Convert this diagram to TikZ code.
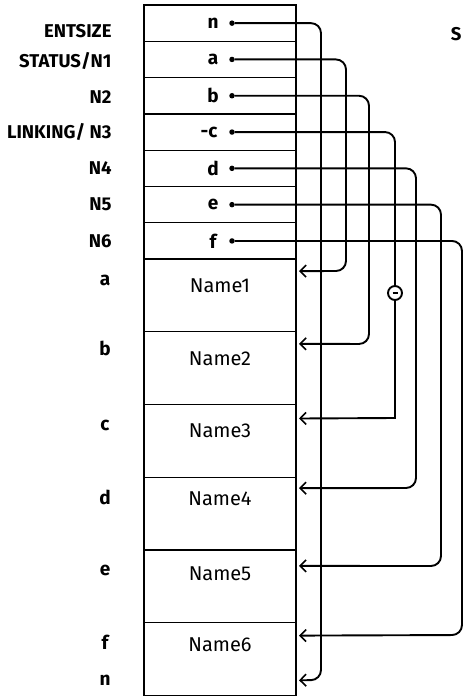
\documentclass[tikz,border=0pt]{standalone}
\usepackage{fontspec}
\setmainfont{Fira Sans}
\usetikzlibrary{arrows.meta,positioning}

\begin{document}
\begin{tikzpicture}[x=1pt,y=-1pt,node distance=0pt,
  fld/.style={draw,line width=1.3pt,minimum width=152pt,minimum height=36.3pt,inner sep=0pt,outer sep=0pt},
  nbox/.style={draw,line width=1.3pt,minimum width=152pt,minimum height=72.7pt,inner sep=0pt,outer sep=0pt},
  lbl/.style={font=\fontsize{18.5}{21}\selectfont\bfseries,anchor=east},
  sml/.style={font=\fontsize{19}{21}\selectfont\bfseries},
  nm/.style={font=\fontsize{20}{22}\selectfont},
  dot/.style={circle,fill,inner sep=0pt,minimum size=5.5pt},
  ln/.style={line width=1.9pt,rounded corners=10pt,-{Straight Barb[length=6pt,width=12pt,line width=1.6pt]}}]
\useasboundingbox (0,0) rectangle (465,698);

% header fields
\node[fld,anchor=north west] (rn) at (144,5) {};
\node[fld,below=of rn] (ra) {};
\node[fld,below=of ra] (rb) {};
\node[fld,below=of rb] (rc) {};
\node[fld,below=of rc] (rd) {};
\node[fld,below=of rd] (re) {};
\node[fld,below=of re] (rf) {};

% name area
\node[nbox,below=of rf] (b1) {};
\node[nbox,below=of b1] (b2) {};
\node[nbox,below=of b2] (b3) {};
\node[nbox,below=of b3] (b4) {};
\node[nbox,below=of b4] (b5) {};
\node[nbox,below=of b5] (b6) {};

% field contents
\node[sml] (vn) at ([xshift=-7pt]rn.center) {n};
\node[sml] (va) at ([xshift=-7pt]ra.center) {a};
\node[sml] (vb) at ([xshift=-7pt]rb.center) {b};
\node[sml] (vc) at ([xshift=-11pt]rc.center) {-c};
\node[sml] (vd) at ([xshift=-7pt]rd.center) {d};
\node[sml] (ve) at ([xshift=-7pt]re.center) {e};
\node[sml] (vf) at ([xshift=-7pt]rf.center) {f};

\node[dot] (pn) at ([xshift=12pt]rn.center) {};
\node[dot] (pa) at ([xshift=12pt]ra.center) {};
\node[dot] (pb) at ([xshift=12pt]rb.center) {};
\node[dot] (pc) at ([xshift=12pt]rc.center) {};
\node[dot] (pd) at ([xshift=12pt]rd.center) {};
\node[dot] (pe) at ([xshift=12pt]re.center) {};
\node[dot] (pf) at ([xshift=12pt]rf.center) {};

\node[nm] (t1) at ([yshift=-27pt]b1.north) {Name1};
\node[nm] (t2) at ([yshift=-27pt]b2.north) {Name2};
\node[nm] (t3) at ([yshift=-26pt]b3.north) {Name3};
\node[nm] (t4) at ([yshift=-22pt]b4.north) {Name4};
\node[nm] (t5) at ([yshift=-24pt]b5.north) {Name5};
\node[nm] (t6) at ([yshift=-22pt]b6.north) {Name6};

% left labels
\node[lbl,left=29pt of rn,yshift=-8pt] (lentsize) {ENTSIZE};
\node[lbl,left=29pt of ra,yshift=-2pt] (lstatus) {STATUS/N1};
\node[lbl,left=29pt of rb,yshift=-1pt] (ln2) {N2};
\node[lbl,left=29pt of rc] (llinking) {LINKING/ N3};
\node[lbl,left=29pt of rd] (ln4) {N4};
\node[lbl,left=29pt of re] (ln5) {N5};
\node[lbl,left=29pt of rf] (ln6) {N6};

\node[sml] (la) at (105,280) {a};
\node[sml] (lb) at (105,348) {b};
\node[sml] (lc) at (105,425) {c};
\node[sml] (ld) at (105,497) {d};
\node[sml] (le) at (105,570) {e};
\node[sml] (lf) at (105,642) {f};
\node[sml] (lnn) at (105,680) {n};

\node[lbl,anchor=east] (ls) at (465,34) {S};

% pointers
\node[circle,draw,line width=1.9pt,fill=white,inner sep=0pt,minimum size=14pt] (neg) at (395,293) {};
\draw[line width=1.9pt] ([xshift=-2.5pt]neg.center) -- ([xshift=2.5pt]neg.center);
\draw[ln] (pn) -| (321,680) -- ([shift={(3,-15)}]b6.south east);
\draw[ln] (pa) -| (346,271) -- ([shift={(3,12)}]b1.north east);
\draw[ln] (pb) -| (369,344) -- ([shift={(3,12)}]b2.north east);
\draw[line width=1.9pt,rounded corners=10pt] (pc) -| (neg);
\draw[ln,rounded corners=0pt] (neg) -- (395,418) -- ([shift={(3,14)}]b3.north east);
\draw[ln] (pd) -| (416,488) -- ([shift={(3,11)}]b4.north east);
\draw[ln] (pe) -| (441,566) -- ([shift={(3,16)}]b5.north east);
\draw[ln] (pf) -| (462,635) -- ([shift={(3,13)}]b6.north east);
\end{tikzpicture}
\end{document}
